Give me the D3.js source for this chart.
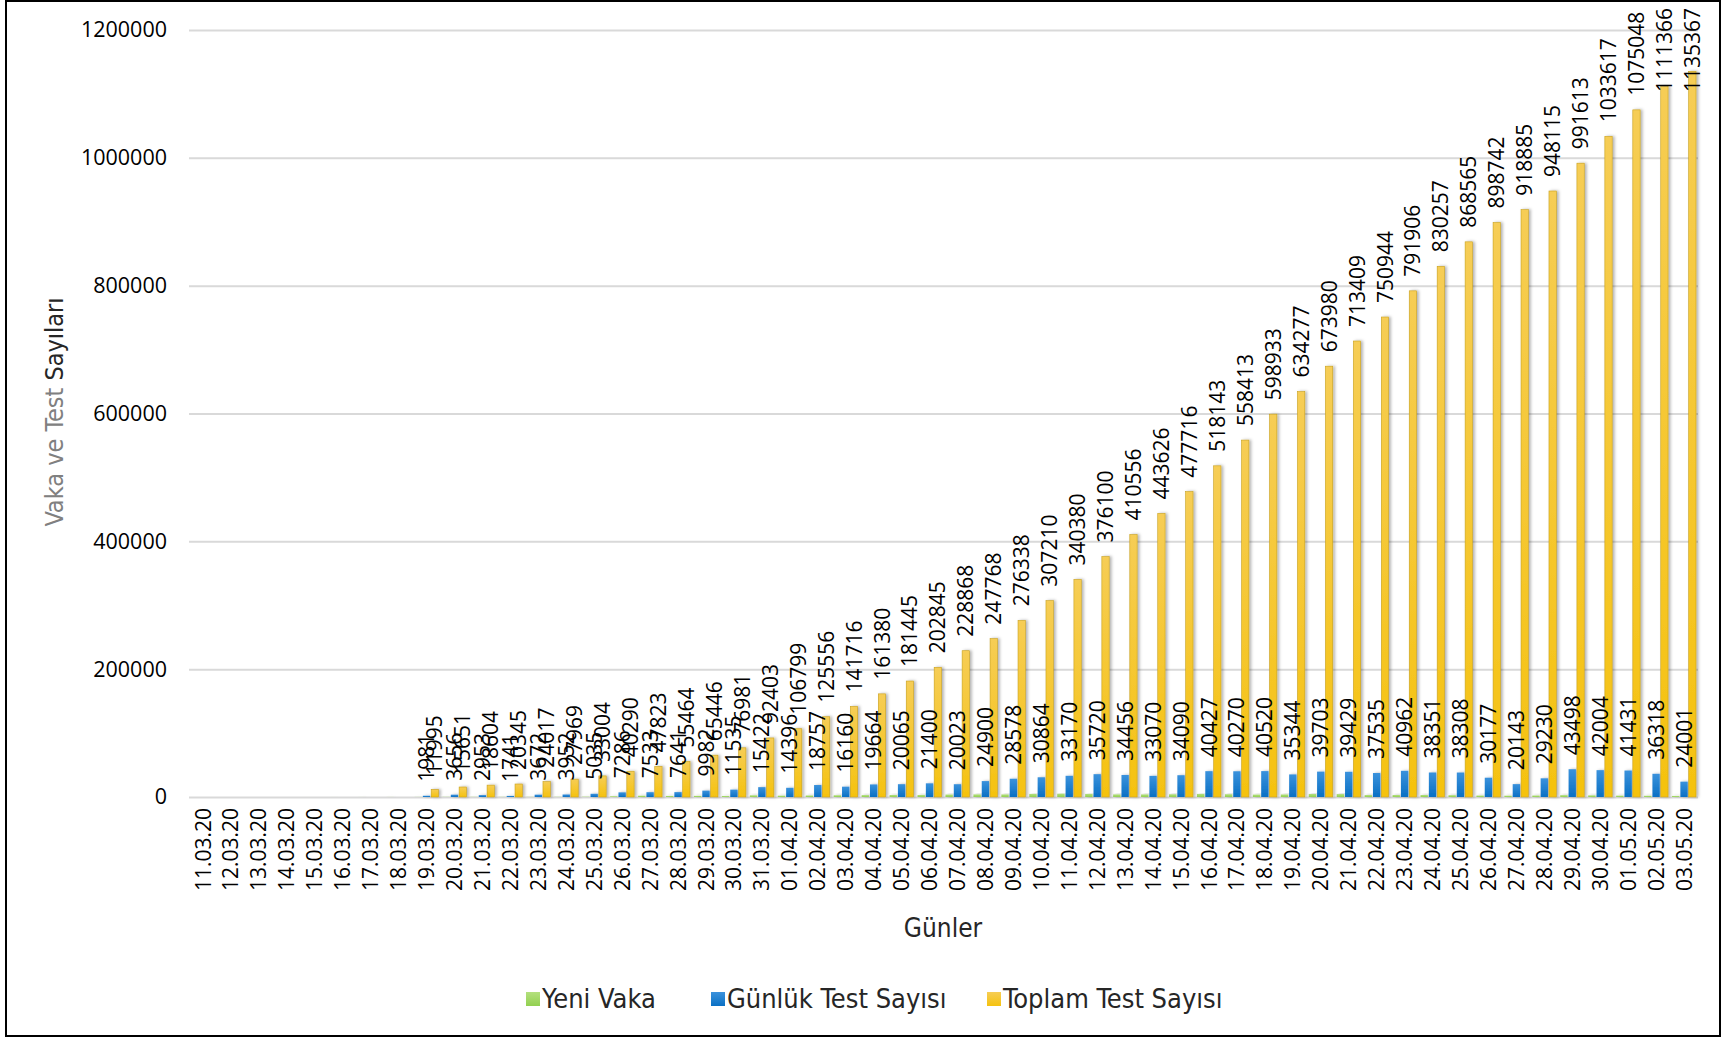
<!DOCTYPE html>
<html>
<head>
<meta charset="utf-8">
<script src="https://cdn.jsdelivr.net/npm/d3@7"></script>
<style>
  body { margin: 0; background: #fff; }
  svg { display: block; font-family: "Open Sans", "Noto Sans", sans-serif; }
</style>
</head>
<body>
<svg id="chart" width="1724" height="1039"></svg>
<script>
// days on the x axis
const days = [
  '11.03.20','12.03.20','13.03.20','14.03.20','15.03.20','16.03.20','17.03.20','18.03.20',
  '19.03.20','20.03.20','21.03.20','22.03.20','23.03.20','24.03.20','25.03.20','26.03.20',
  '27.03.20','28.03.20','29.03.20','30.03.20','31.03.20','01.04.20','02.04.20','03.04.20',
  '04.04.20','05.04.20','06.04.20','07.04.20','08.04.20','09.04.20','10.04.20','11.04.20',
  '12.04.20','13.04.20','14.04.20','15.04.20','16.04.20','17.04.20','18.04.20','19.04.20',
  '20.04.20','21.04.20','22.04.20','23.04.20','24.04.20','25.04.20','26.04.20','27.04.20',
  '28.04.20','29.04.20','30.04.20','01.05.20','02.05.20','03.05.20'
]

// Yeni Vaka (no labels on the chart, bars only a few px tall -> estimated)
const yeniVaka = [
  1,0,4,1,12,29,51,93,168,311,277,289,293,343,561,1196,
  2069,1704,1815,1610,2704,2148,2456,2786,3013,3135,3148,3892,4117,4056,4747,5138,
  4789,4093,4062,4281,4801,4353,3783,3977,4674,4611,3083,3116,3122,2861,2357,2131,
  2392,2936,2615,2188,1983,1670
]

// Günlük Test Sayısı
const gunlukTest = [
  null,null,null,null,null,null,null,null,
  1981,3656,2953,1741,3672,3952,5035,7286,
  7533,7641,9982,11535,15422,14396,18757,16160,
  19664,20065,21400,20023,24900,28578,30864,33170,
  35720,34456,33070,34090,40427,40270,40520,35344,
  39703,39429,37535,40962,38351,38308,30177,20143,
  29230,43498,42004,41431,36318,24001
]

// Toplam Test Sayısı
const toplamTest = [
  null,null,null,null,null,null,null,null,
  11995,15651,18604,20345,24017,27969,33004,40290,
  47823,55464,65446,76981,92403,106799,125556,141716,
  161380,181445,202845,228868,247768,276338,307210,340380,
  376100,410556,443626,477716,518143,558413,598933,634277,
  673980,713409,750944,791906,830257,868565,898742,918885,
  948115,991613,1033617,1075048,1111366,1135367
]

const yTicks = [0,200000,400000,600000,800000,1000000,1200000]

const seriesNames = ['Yeni Vaka','Günlük Test Sayısı','Toplam Test Sayısı']
const seriesColors = ['#92d050','#0a70c4','#f5c20f']
const seriesLight = ['#b4e07e','#3b92dc','#f6cd55']
const seriesData = [yeniVaka, gunlukTest, toplamTest]
const showLabels = [false, true, true]

const svg = d3.select('#chart')
const plotL = 189, plotR = 1698, plotT = 30, plotB = 797
const titleFont = '"DejaVu Sans Condensed", "Open Sans", sans-serif'

// frame
svg.append('rect')
  .attr('x', 6).attr('y', 1).attr('width', 1714).attr('height', 1035)
  .attr('fill', 'none').attr('stroke', '#000').attr('stroke-width', 2)

const defs = svg.append('defs')
seriesColors.forEach((c, i) => {
  const g = defs.append('linearGradient').attr('id', 'grad' + i)
    .attr('x1', 0).attr('y1', 0).attr('x2', 0).attr('y2', 1)
  g.append('stop').attr('offset', '0%').attr('stop-color', seriesLight[i])
  g.append('stop').attr('offset', '100%').attr('stop-color', c)
})
const f = defs.append('filter').attr('id', 'shadow')
  .attr('x', '-50%').attr('y', '-5%').attr('width', '250%').attr('height', '110%')
f.append('feDropShadow').attr('dx', 2).attr('dy', 0).attr('stdDeviation', 1.5)
  .attr('flood-color', '#000').attr('flood-opacity', 0.3)

const x = d3.scaleBand().domain(days).range([plotL, plotR])
const xs = d3.scaleBand().domain(seriesNames)
  .range([(x.bandwidth() - 24) / 2, (x.bandwidth() + 24) / 2]).paddingInner(0.12)
const y = d3.scaleLinear().domain([0, 1200000]).range([plotB, plotT])

// grid + y labels
const yAxis = svg.append('g')
  .attr('transform', `translate(${plotL},0)`)
  .call(d3.axisLeft(y).tickValues(yTicks).tickFormat(d3.format('d'))
    .tickSize(-(plotR - plotL)).tickPadding(22))
yAxis.select('.domain').remove()
yAxis.selectAll('line').attr('stroke', '#d9d9d9').attr('stroke-width', 2)
yAxis.selectAll('text').attr('fill', '#000').style('font-size', '21.5px')
  .style('font-family', '"Open Sans", sans-serif')

// x labels
const xAxis = svg.append('g')
  .attr('transform', `translate(0,${plotB})`)
  .call(d3.axisBottom(x).tickSize(0))
xAxis.select('.domain').remove()
xAxis.selectAll('text')
  .attr('transform', 'rotate(-90)')
  .attr('x', -11).attr('y', 0).attr('dy', '0.36em')
  .style('text-anchor', 'end')
  .style('font-size', '21px')
  .style('font-family', '"Open Sans", sans-serif')
  .attr('fill', '#000')

// bars
seriesData.forEach((vals, si) => {
  const name = seriesNames[si]
  svg.append('g').attr('filter', 'url(#shadow)')
    .selectAll('rect')
    .data(days.map((d, i) => ({ day: d, v: vals[i] })).filter(d => d.v != null && d.v > 0))
    .join('rect')
    .attr('x', d => x(d.day) + xs(name))
    .attr('width', xs.bandwidth())
    .attr('y', d => y(d.v))
    .attr('height', d => plotB - y(d.v))
    .attr('fill', `url(#grad${si})`)
    .attr('stroke', si === 2 ? '#c9a11d' : 'none')
    .attr('stroke-width', 0.6)
})

// data labels
const fs = 21
seriesData.forEach((vals, si) => {
  if (!showLabels[si]) return
  const name = seriesNames[si]
  const lab = svg.append('g')
    .selectAll('text')
    .data(days.map((d, i) => ({ day: d, v: vals[i] })).filter(d => d.v != null))
    .join('text')
    .text(d => d.v)
    .style('font-size', fs + 'px')
    .attr('fill', '#000')
  lab.each(function(d) {
    const len = this.getComputedTextLength()
    const cx = x(d.day) + xs(name) + xs.bandwidth() / 2 + fs * 0.36
    const yy = Math.max(y(d.v) - 14, 8 + len)
    d3.select(this).attr('transform', `translate(${cx},${yy}) rotate(-90)`)
  })
})

// axis titles
const yt = svg.append('text')
  .attr('transform', 'translate(63,412) rotate(-90)')
  .attr('text-anchor', 'middle')
  .style('font-size', '25px')
  .style('font-family', titleFont)
yt.append('tspan').attr('fill', '#808080').text('Vaka ve Test ')
yt.append('tspan').attr('fill', '#262626').text('Sayıları')

svg.append('text')
  .attr('x', 943).attr('y', 937)
  .attr('text-anchor', 'middle')
  .style('font-size', '26px')
  .style('font-family', titleFont)
  .attr('fill', '#262626')
  .text('Günler')

// legend
const legendX = [526, 711, 987]
const leg = svg.append('g')
  .selectAll('g')
  .data(seriesNames)
  .join('g')
  .attr('transform', (d, i) => `translate(${legendX[i]},999)`)
leg.append('rect')
  .attr('x', 0).attr('y', -7).attr('width', 14).attr('height', 14)
  .attr('fill', (d, i) => `url(#grad${i})`)
leg.append('text')
  .attr('x', 16).attr('dy', '0.35em')
  .style('font-size', '27px')
  .style('font-family', titleFont)
  .attr('fill', '#262626')
  .text(d => d)
</script>
</body>
</html>
